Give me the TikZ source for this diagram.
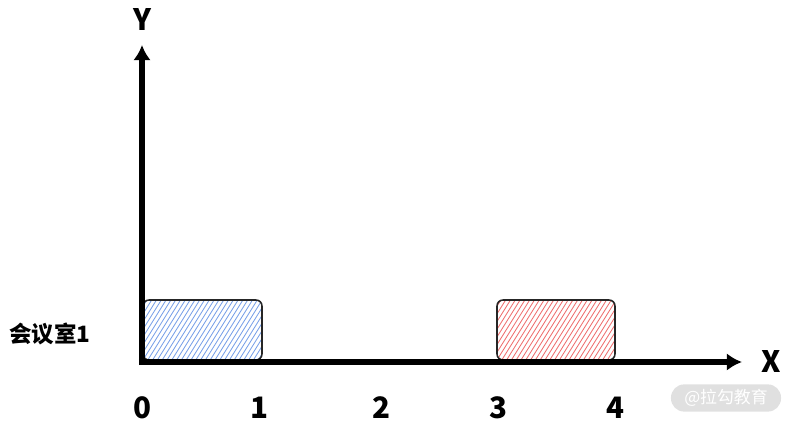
\documentclass[tikz,border=0pt]{standalone}
\usepackage{fontspec}
\setmainfont{Noto Sans CJK SC}
\usetikzlibrary{arrows.meta,positioning}
\definecolor{hatchblue}{RGB}{120,160,232}
\definecolor{hatchred}{RGB}{238,110,110}

\begin{document}
\begin{tikzpicture}[
    x=0.025cm, y=-0.025cm,
    axis/.style={line width=4.5pt, -{Latex[length=0.38cm, width=0.44cm]}},
    lbl/.style={font=\fontsize{21}{23}\selectfont\bfseries},
    tick/.style={font=\fontsize{21}{23}\selectfont\bfseries, anchor=center},
    room/.style={draw=black!85, line width=1.1pt, rounded corners=0.15cm, path picture={
        \foreach \k in {-3,-2.88,...,3.2}
          \draw[#1, line width=0.6pt] ([xshift=\k cm]path picture bounding box.south west) -- ++(58:2.2cm);}},
    wmark/.style={fill=black!12, rounded corners=0.33cm, minimum width=2.75cm, minimum height=0.68cm, text=white, font=\fontsize{12}{14}\selectfont}
]
\useasboundingbox (0,0) rectangle (792,425);
% rooms
\draw[room=hatchblue] (143,300) rectangle (262,360);
\draw[room=hatchred] (497,300) rectangle (615,360);
% axes
\coordinate (o) at (142,362);
\coordinate (ytip) at (142,45);
\coordinate (xtip) at (742,362);
\draw[axis] ([yshift=-2.25pt]o) -- (ytip);
\draw[axis] ([xshift=-2.25pt]o) -- (xtip);
\node[lbl] (ylab) at (142,20) {Y};
\node[lbl] (xlab) at (771,362) {X};
% ticks
\foreach \i/\x in {0/142,1/259,2/381,3/498,4/615}
  \node[tick] (t\i) at (\x,408) {\i};
\node[font=\fontsize{16}{18}\selectfont\bfseries] (room1) at (50,334) {会议室1};
\node[wmark] (wm) at (726,398) {@拉勾教育};
\end{tikzpicture}
\end{document}
